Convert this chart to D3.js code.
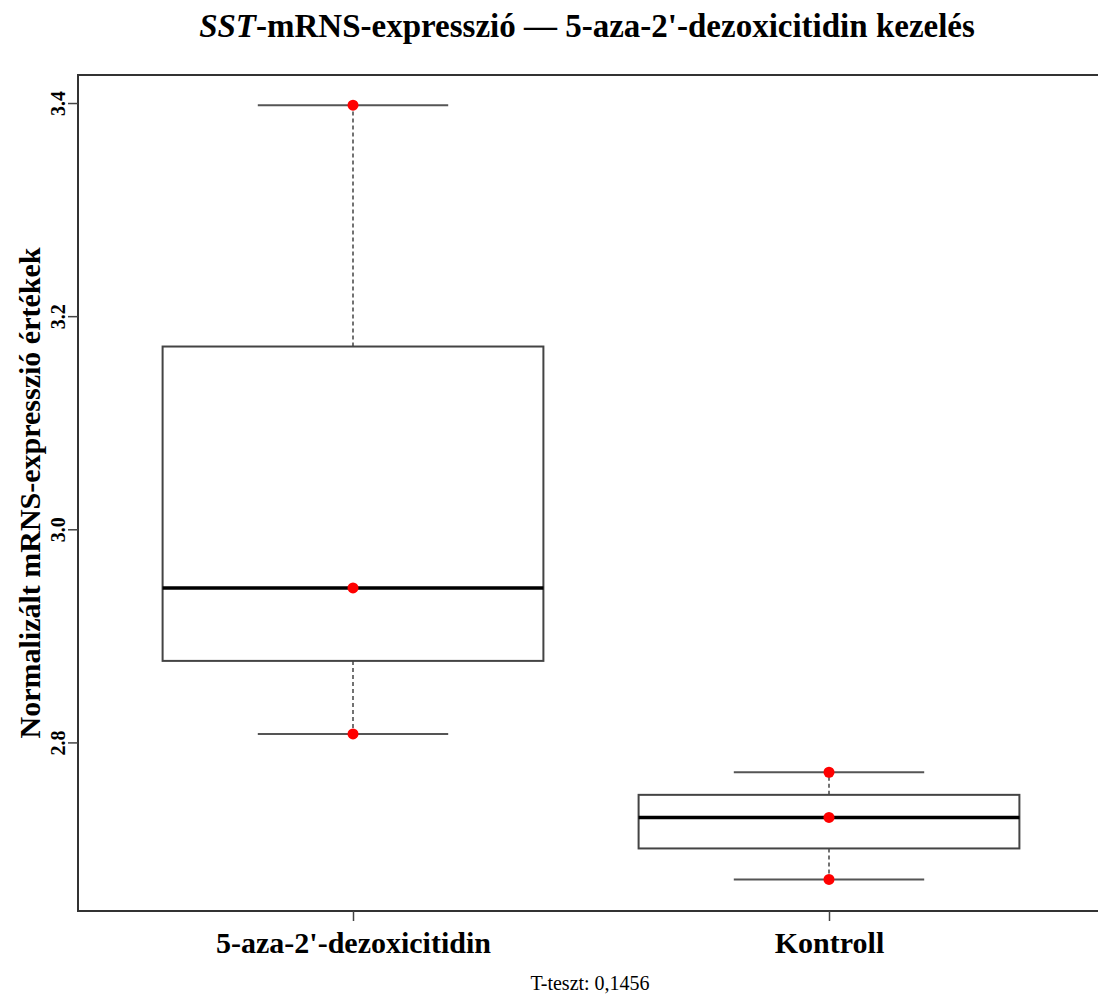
<!DOCTYPE html>
<html>
<head>
<meta charset="utf-8">
<script src="https://cdn.jsdelivr.net/npm/d3@7"></script>
<style>
  html, body { margin: 0; padding: 0; background: #fff; }
  svg { display: block; font-family: "Liberation Serif", "Times New Roman", serif; }
</style>
</head>
<body>
<svg id="chart" width="1098" height="996"></svg>
<script>
// ---- Data ----
const categories = ["5-aza-2'-dezoxicitidin", "Kontroll"];
const values_aza = [3.398, 2.945, 2.808];
const values_kontroll = [2.772, 2.7296, 2.6714];
const seriesValues = [values_aza, values_kontroll];
const yTicks = [2.8, 3.0, 3.2, 3.4];
const yTickLabels = ["2.8", "3.0", "3.2", "3.4"];
const titleItalic = "SST";
const titleRest = "-mRNS-expresszió — 5-aza-2'-dezoxicitidin kezelés";
const yLabel = "Normalizált mRNS-expresszió értékek";
const footer = "T-teszt: 0,1456";

// ---- Layout ----
const svg = d3.select("#chart");
const plotLeft = 78, plotTop = 75, plotBottom = 911, plotRight = 1110;

const x = d3.scaleLinear().domain([1, 2]).range([353, 829]);
const y = d3.scaleLinear().domain([2.6418, 3.4263]).range([plotBottom, plotTop]);

// R-style five-number summary (Tukey hinges)
function fivenum(arr) {
  const s = arr.slice().sort(d3.ascending);
  const n = s.length;
  const n4 = Math.floor((n + 3) / 2) / 2;
  const idx = [1, n4, (n + 1) / 2, n + 1 - n4, n];
  return idx.map(i => 0.5 * (s[Math.floor(i) - 1] + s[Math.ceil(i) - 1]));
}

const boxHalf = 0.4, capHalf = 0.2;

const g = svg.append("g");
seriesValues.forEach((vals, i) => {
  const pos = i + 1;
  const [mn, q1, med, q3, mx] = fivenum(vals);
  // whiskers (dashed)
  g.append("line").attr("x1", x(pos)).attr("x2", x(pos))
    .attr("y1", y(q3)).attr("y2", y(mx))
    .attr("stroke", "#444").attr("stroke-width", 1.5).attr("stroke-dasharray", "4,3");
  g.append("line").attr("x1", x(pos)).attr("x2", x(pos))
    .attr("y1", y(q1)).attr("y2", y(mn))
    .attr("stroke", "#444").attr("stroke-width", 1.5).attr("stroke-dasharray", "4,3");
  // caps
  [mn, mx].forEach(v => {
    g.append("line").attr("x1", x(pos - capHalf)).attr("x2", x(pos + capHalf))
      .attr("y1", y(v)).attr("y2", y(v))
      .attr("stroke", "#555").attr("stroke-width", 2);
  });
  // box
  g.append("rect").attr("x", x(pos - boxHalf)).attr("y", y(q3))
    .attr("width", x(pos + boxHalf) - x(pos - boxHalf))
    .attr("height", y(q1) - y(q3))
    .attr("fill", "#fff").attr("stroke", "#444").attr("stroke-width", 2);
  // median
  g.append("line").attr("x1", x(pos - boxHalf)).attr("x2", x(pos + boxHalf))
    .attr("y1", y(med)).attr("y2", y(med))
    .attr("stroke", "#000").attr("stroke-width", 3.5);
  // points
  g.selectAll(null).data(vals).enter().append("circle")
    .attr("cx", x(pos)).attr("cy", d => y(d)).attr("r", 5.5).attr("fill", "#ff0000");
});

// frame
svg.append("rect").attr("x", plotLeft).attr("y", plotTop)
  .attr("width", plotRight - plotLeft).attr("height", plotBottom - plotTop)
  .attr("fill", "none").attr("stroke", "#333").attr("stroke-width", 2);

// y axis
const yAxis = d3.axisLeft(y).tickValues(yTicks).tickSize(10)
  .tickFormat((d, i) => yTickLabels[i]);
const ya = svg.append("g").attr("transform", `translate(${plotLeft},0)`).call(yAxis);
ya.select(".domain").remove();
ya.selectAll(".tick line").attr("stroke", "#444").attr("stroke-width", 1.5);
ya.selectAll(".tick text")
  .attr("x", 0).attr("dy", 0).attr("dx", 0)
  .attr("transform", "translate(-13,0) rotate(-90)")
  .attr("text-anchor", "middle")
  .attr("font-family", "Liberation Serif").attr("font-size", 20).attr("font-weight", "bold")
  .attr("fill", "#000");

// x axis
const xAxis = d3.axisBottom(x).tickValues([1, 2]).tickSize(10)
  .tickFormat((d, i) => categories[i]);
const xa = svg.append("g").attr("transform", `translate(0,${plotBottom})`).call(xAxis);
xa.select(".domain").remove();
xa.selectAll(".tick line").attr("stroke", "#444").attr("stroke-width", 1.5);
xa.selectAll(".tick text").attr("y", 42).attr("dy", 0)
  .attr("font-family", "Liberation Serif").attr("font-size", 30).attr("font-weight", "bold")
  .attr("fill", "#000");

// title
const t = svg.append("text").attr("x", 587).attr("y", 37).attr("text-anchor", "middle")
  .attr("font-size", 33).attr("font-weight", "bold").attr("fill", "#000");
t.append("tspan").attr("font-style", "italic").text(titleItalic);
t.append("tspan").text(titleRest);

// y label
svg.append("text").attr("transform", `translate(40,${(plotTop + plotBottom) / 2}) rotate(-90)`)
  .attr("text-anchor", "middle").attr("font-size", 30).attr("font-weight", "bold")
  .attr("fill", "#000").text(yLabel);

// footer
svg.append("text").attr("x", 590).attr("y", 990).attr("text-anchor", "middle")
  .attr("font-size", 20).attr("fill", "#000").text(footer);
</script>
</body>
</html>
